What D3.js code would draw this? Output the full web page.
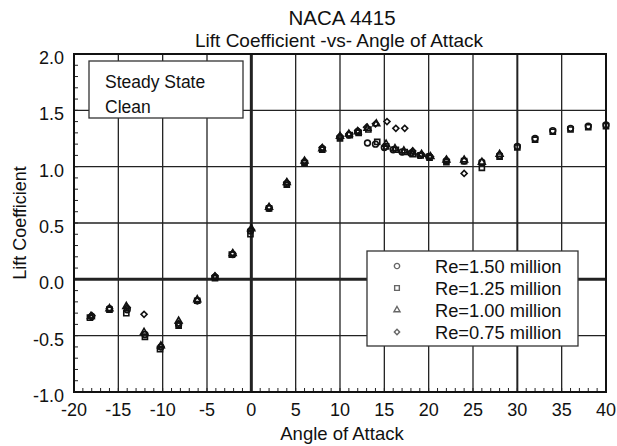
<!DOCTYPE html>
<html>
<head>
<meta charset="utf-8">
<script src="https://cdn.jsdelivr.net/npm/d3@7"></script>
<style>
  body { margin: 0; background: #fff; }
  text { font-family: "Liberation Sans", Arial, sans-serif; fill: #111; }
</style>
</head>
<body>
<script>
// data
var xTicks = [-20, -15, -10, -5, 0, 5, 10, 15, 20, 25, 30, 35, 40];
var yTicks = [-1.0, -0.5, 0.0, 0.5, 1.0, 1.5, 2.0];

var re150Alpha = [-18, -16, -14, -12, -10.2, -8.2, -6.1, -4.1, -2.1, -0.1, 2, 4, 6, 8, 10, 11, 12, 13.1, 14, 15, 16, 17, 18, 19, 20, 22, 24, 26, 28, 30, 32, 34, 36, 38, 40];
var re150Cl = [-0.33, -0.26, -0.27, -0.49, -0.60, -0.40, -0.19, 0.02, 0.22, 0.43, 0.63, 0.85, 1.04, 1.16, 1.26, 1.28, 1.31, 1.21, 1.20, 1.17, 1.15, 1.13, 1.12, 1.10, 1.09, 1.05, 1.05, 1.04, 1.10, 1.18, 1.25, 1.32, 1.34, 1.36, 1.37];

var re125Alpha = [-18.2, -16, -14.1, -12, -10.3, -8.2, -6.1, -4.1, -2.2, -0.1, 2, 4, 6, 8, 10, 11.1, 12.1, 13.2, 14.2, 15.2, 16.3, 17.3, 18.2, 19.1, 20.1, 22, 24, 26, 28, 30, 32, 34, 36, 38, 40];
var re125Cl = [-0.34, -0.27, -0.30, -0.51, -0.62, -0.41, -0.19, 0.01, 0.22, 0.40, 0.63, 0.84, 1.03, 1.15, 1.25, 1.28, 1.30, 1.33, 1.22, 1.18, 1.15, 1.13, 1.11, 1.10, 1.08, 1.04, 1.05, 0.99, 1.09, 1.17, 1.24, 1.31, 1.33, 1.35, 1.36];

var re100Alpha = [-18.1, -16, -14.1, -12.1, -10.2, -8.2, -6.1, -4.1, -2.1, 0, 2, 4, 6, 8, 10, 11, 12, 13.1, 14.1, 15.2, 16.2, 17.2, 18.2, 19.2, 20.2, 22, 24, 26, 28];
var re100Cl = [-0.33, -0.26, -0.24, -0.47, -0.59, -0.37, -0.18, 0.02, 0.23, 0.45, 0.64, 0.86, 1.05, 1.16, 1.27, 1.29, 1.31, 1.34, 1.38, 1.20, 1.16, 1.14, 1.13, 1.11, 1.09, 1.06, 1.06, 1.04, 1.11];

var re075Alpha = [-18, -16, -14, -12.1, -10.2, -8.2, -6.1, -4.1, -2.1, 0, 2, 4, 6, 8, 10, 11, 12, 13, 14, 15.3, 16.3, 17.3, 18.2, 19.2, 20.2, 22, 24];
var re075Cl = [-0.32, -0.26, -0.25, -0.31, -0.60, -0.39, -0.19, 0.03, 0.23, 0.44, 0.64, 0.86, 1.05, 1.17, 1.27, 1.29, 1.32, 1.35, 1.38, 1.40, 1.34, 1.34, 1.14, 1.11, 1.09, 1.06, 0.94];

var seriesNames = ["Re=1.50 million", "Re=1.25 million", "Re=1.00 million", "Re=0.75 million"];
var seriesShapes = [d3.symbolCircle, d3.symbolSquare, d3.symbolTriangle, d3.symbolSquare];
var shapeSizes = [26, 26, 20, 18];
var shapeTurn = [0, 0, 0, 45];

var series = [
  {alpha: re150Alpha, cl: re150Cl},
  {alpha: re125Alpha, cl: re125Cl},
  {alpha: re100Alpha, cl: re100Cl},
  {alpha: re075Alpha, cl: re075Cl}
];

var width = 617, height = 446;
var plotLeft = 74, plotRight = 606, plotTop = 54, plotBottom = 392;

var x = d3.scaleLinear().domain([-20, 40]).range([plotLeft, plotRight]);
var y = d3.scaleLinear().domain([-1, 2]).range([plotBottom, plotTop]);

var svg = d3.select("body").append("svg")
    .attr("width", width)
    .attr("height", height);

// titles
svg.append("text")
    .attr("x", 342).attr("y", 25)
    .attr("text-anchor", "middle")
    .style("font-size", "20.5px")
    .text("NACA 4415");
svg.append("text")
    .attr("x", 339).attr("y", 47)
    .attr("text-anchor", "middle")
    .style("font-size", "19px")
    .text("Lift Coefficient -vs- Angle of Attack");

// grid lines
svg.append("g").selectAll("line")
    .data(xTicks.slice(1, -1))
    .enter().append("line")
    .attr("x1", function(d) { return x(d); })
    .attr("x2", function(d) { return x(d); })
    .attr("y1", plotTop).attr("y2", plotBottom)
    .style("stroke", "#222")
    .style("stroke-width", function(d) { return d == 0 ? 3 : (d == 30 ? 2 : 1.3); });

svg.append("g").selectAll("line")
    .data(yTicks.slice(1, -1))
    .enter().append("line")
    .attr("y1", function(d) { return y(d); })
    .attr("y2", function(d) { return y(d); })
    .attr("x1", plotLeft).attr("x2", plotRight)
    .style("stroke", "#222")
    .style("stroke-width", function(d) { return d == 0 ? 3 : 1.3; });

// minor ticks
svg.append("g").selectAll("line")
    .data(d3.range(-19, 40, 1))
    .enter().append("line")
    .attr("x1", function(d) { return x(d); })
    .attr("x2", function(d) { return x(d); })
    .attr("y1", plotBottom).attr("y2", plotBottom - 4)
    .style("stroke", "#222").style("stroke-width", 1);

svg.append("g").selectAll("line")
    .data(d3.range(-9, 20, 1).map(function(d) { return d / 10; }))
    .enter().append("line")
    .attr("y1", function(d) { return y(d); })
    .attr("y2", function(d) { return y(d); })
    .attr("x1", plotLeft).attr("x2", plotLeft + 4)
    .style("stroke", "#222").style("stroke-width", 1);

// frame
svg.append("rect")
    .attr("x", plotLeft).attr("y", plotTop)
    .attr("width", plotRight - plotLeft).attr("height", plotBottom - plotTop)
    .style("fill", "none")
    .style("stroke", "#111")
    .style("stroke-width", 2);

// tick labels (plain hyphen for minus, as in the original)
svg.append("g").selectAll("text")
    .data(xTicks)
    .enter().append("text")
    .attr("x", function(d) { return x(d); })
    .attr("y", plotBottom + 24)
    .attr("text-anchor", "middle")
    .style("font-size", "18px")
    .text(function(d) { return String(d); });

svg.append("g").selectAll("text")
    .data(yTicks)
    .enter().append("text")
    .attr("x", plotLeft - 10)
    .attr("y", function(d) { return y(d) + 10; })
    .attr("text-anchor", "end")
    .style("font-size", "18px")
    .text(function(d) { return d.toFixed(1); });

// axis titles
svg.append("text")
    .attr("x", 342).attr("y", 440)
    .attr("text-anchor", "middle")
    .style("font-size", "18.5px")
    .text("Angle of Attack");
svg.append("text")
    .attr("transform", "translate(26," + (plotTop + plotBottom) / 2 + ") rotate(-90)")
    .attr("text-anchor", "middle")
    .style("font-size", "18px")
    .text("Lift Coefficient");

// note box
svg.append("rect")
    .attr("x", 89).attr("y", 61)
    .attr("width", 154).attr("height", 57)
    .style("fill", "#fff").style("stroke", "#333").style("stroke-width", 1.3);
svg.append("text").attr("x", 105).attr("y", 88).style("font-size", "17.5px").text("Steady State");
svg.append("text").attr("x", 105).attr("y", 113).style("font-size", "17.5px").text("Clean");

// data points
series.forEach(function(s, i) {
  svg.append("g").selectAll("path")
      .data(s.alpha.map(function(a, j) { return [a, s.cl[j]]; }))
      .enter().append("path")
      .attr("transform", function(d) {
        return "translate(" + x(d[0]) + "," + y(d[1]) + ") rotate(" + shapeTurn[i] + ")";
      })
      .attr("d", d3.symbol().type(seriesShapes[i]).size(shapeSizes[i])())
      .style("fill", "none")
      .style("stroke", "#111")
      .style("stroke-width", 1.6);
});

// legend
var lg = svg.append("g");
lg.append("rect")
    .attr("x", 367).attr("y", 251)
    .attr("width", 211).attr("height", 95)
    .style("fill", "#fff").style("stroke", "#333").style("stroke-width", 1.3);
var items = lg.selectAll("g.item")
    .data(seriesNames)
    .enter().append("g")
    .attr("transform", function(d, i) { return "translate(0," + (266 + i * 22) + ")"; });
items.append("path")
    .attr("transform", function(d, i) { return "translate(397,0) rotate(" + shapeTurn[i] + ")"; })
    .attr("d", function(d, i) { return d3.symbol().type(seriesShapes[i]).size(shapeSizes[i] - 4)(); })
    .style("fill", "none").style("stroke", "#666").style("stroke-width", 1.4);
items.append("text")
    .attr("x", 435).attr("y", 6.5)
    .style("font-size", "18.3px")
    .text(function(d) { return d; });
</script>
</body>
</html>
